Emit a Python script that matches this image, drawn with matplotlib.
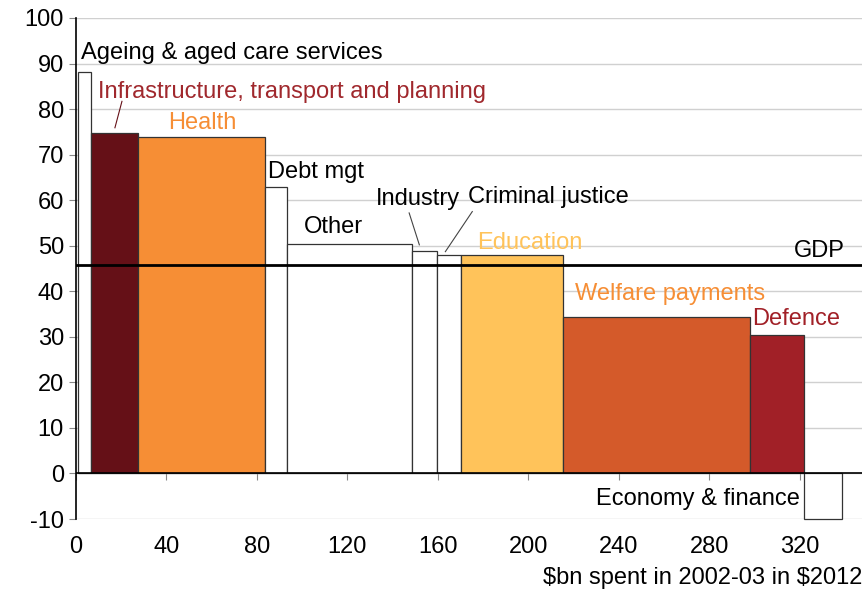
#!/usr/bin/env python3
"""
Variable-width bar chart: growth in spending by function vs size in 2002-03
"""

import matplotlib.pyplot as plt
import numpy as np

# Bar data: category, width ($bn spent in 2002-03), growth (%)
categories = ['Ageing & aged care services', 'Infrastructure, transport and planning',
              'Health', 'Debt mgt', 'Other', 'Industry', 'Criminal justice',
              'Education', 'Welfare payments', 'Defence', 'Economy & finance']
widths = [5.7, 21.0, 56.0, 9.8, 55.0, 11.1, 10.5, 45.5, 82.5, 23.7, 16.8]
growth = [88.2, 74.8, 73.9, 62.9, 50.4, 48.9, 48.0, 47.9, 34.4, 30.5, -10.0]
start_offset = 0.9
gdp_growth = 45.8

fill_colors = ['white', '#651017', '#F68E35', 'white', 'white', 'white', 'white',
               '#FFC35A', '#D45A2A', '#A12027', 'white']
label_colors = ['black', '#A0282D', '#F68E35', 'black', 'black', 'black', 'black',
                '#FFC35A', '#F68E35', '#A12027', 'black']

# label placement (data coords) and alignment
label_pos = [(2.2, 92.3, 'left'), (9.7, 83.8, 'left'), (55.8, 77.0, 'center'),
             (85.0, 66.2, 'left'), (114.0, 54.2, 'center'), (151.0, 60.3, 'center'),
             (173.5, 60.7, 'left'), (177.4, 50.7, 'left'), (220.4, 39.5, 'left'),
             (299.0, 34.0, 'left'), (320.0, -5.7, 'right')]

# leader lines for the crowded labels
leaders = {1: ((20.4, 81.7), (17.3, 75.9)),
           5: ((147.3, 57.2), (151.8, 50.2)),
           6: ((175.2, 57.5), (163.3, 48.7))}

xticks = np.arange(0, 321, 40)
yticks = np.arange(-10, 101, 10)

plt.rcParams['font.family'] = ['Liberation Sans', 'DejaVu Sans']
plt.rcParams['axes.unicode_minus'] = False

fig = plt.figure(figsize=(8.66, 5.92), dpi=100)
ax = fig.add_axes([0.0875, 0.1233, 0.9079, 0.8463])

lefts = start_offset + np.concatenate([[0], np.cumsum(widths)[:-1]])
bars = ax.bar(lefts, growth, width=widths, align='edge', color=fill_colors,
              edgecolor='#333333', linewidth=0.9, zorder=3)
for b in bars:
    b.set_clip_on(False)

ax.axhline(0, color='black', linewidth=1.2, zorder=4)
ax.axhline(gdp_growth, color='black', linewidth=2, zorder=5)
ax.text(339.8, gdp_growth + 3.1, 'GDP', ha='right', va='center', fontsize=17)

for i, name in enumerate(categories):
    x, y, ha = label_pos[i]
    ax.text(x, y, name, ha=ha, va='center', fontsize=17, color=label_colors[i], zorder=6)

for i, (p0, p1) in leaders.items():
    ax.plot([p0[0], p1[0]], [p0[1], p1[1]], color='#444444' if i != 1 else '#651017',
            linewidth=0.8, zorder=6)

ax.set_xlim(0, 347.4)
ax.set_ylim(-10, 100)
ax.set_yticks(yticks)
ax.set_xticks(xticks)
ax.tick_params(axis='y', direction='out', length=5, color='#888888', labelsize=17)
ax.tick_params(axis='x', direction='out', length=5, color='#888888', labelsize=17, pad=40)
ax.grid(axis='y', color='#d0d0d0', linewidth=1, zorder=0)

ax.spines['top'].set_visible(False)
ax.spines['right'].set_visible(False)
ax.spines['bottom'].set_position(('data', 0))
ax.spines['bottom'].set_visible(False)
ax.spines['left'].set_color('black')
ax.spines['left'].set_linewidth(1.2)

fig.text(0.9954, 0.024, r'\$bn spent in 2002-03 in \$2012', ha='right', va='center', fontsize=17)

plt.savefig('out.png', dpi=100)
